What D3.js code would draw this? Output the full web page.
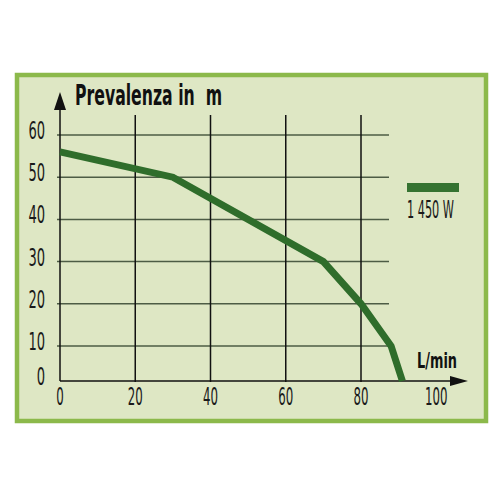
<!DOCTYPE html>
<html>
<head>
<meta charset="utf-8">
<script src="https://cdn.jsdelivr.net/npm/d3@7"></script>
<style>
  html, body { margin: 0; padding: 0; background: #ffffff; }
  svg { display: block; }
  text { white-space: pre; }
</style>
</head>
<body>
<svg id="chart" width="500" height="500"></svg>
<script>
// ---- data ----
const flow = [0, 30, 70, 80, 88, 91];          // L/min
const head = [56, 50, 30, 20, 10, 0];          // m
const xTicks = [0, 20, 40, 60, 80, 100];
const yTicks = [0, 10, 20, 30, 40, 50, 60];
const xGrid = [20, 40, 60, 80];
const yGrid = [10, 20, 30, 40, 50, 60];
const seriesName = "1 450 W";
const yTitle = "Prevalenza in  m";
const xTitle = "L/min";

const svg = d3.select("#chart");
const font = "'Liberation Sans Narrow', 'DejaVu Sans Condensed', sans-serif";

const x = d3.scaleLinear().domain([0, 80]).range([60, 361]);
const y = d3.scaleLinear().domain([0, 10, 60]).range([381, 346, 135]);

// frame
svg.append("rect").attr("x", 17).attr("y", 75).attr("width", 469).attr("height", 346)
  .attr("fill", "#dee7c4").attr("stroke", "#8cb94b").attr("stroke-width", 4.5);

// horizontal grid
svg.append("g").selectAll("line").data(yGrid).join("line")
  .attr("x1", 57).attr("x2", 389)
  .attr("y1", d => y(d)).attr("y2", d => y(d))
  .attr("stroke", "#4d5c45").attr("stroke-width", 1.5);

// vertical grid
svg.append("g").selectAll("line").data(xGrid).join("line")
  .attr("x1", d => x(d)).attr("x2", d => x(d))
  .attr("y1", 115).attr("y2", y(0) + 1)
  .attr("stroke", "#111").attr("stroke-width", 1.5);

// axes
svg.append("line").attr("x1", x(0)).attr("x2", x(0)).attr("y1", y(0)).attr("y2", 106)
  .attr("stroke", "#111").attr("stroke-width", 1.5);
svg.append("path").attr("d", `M${x(0)},92 L${x(0)-6},110 L${x(0)+6},110 Z`).attr("fill", "#111");
svg.append("line").attr("x1", x(0)).attr("x2", 455).attr("y1", y(0)).attr("y2", y(0))
  .attr("stroke", "#111").attr("stroke-width", 1.5);
svg.append("path").attr("d", `M468,${y(0)} L450,${y(0)-5} L450,${y(0)+5} Z`).attr("fill", "#111");

// tick labels (tall, narrow digits)
svg.append("g").selectAll("text").data(yTicks).join("text")
  .attr("x", 45).attr("y", d => y(d) + 4)
  .attr("text-anchor", "end")
  .attr("font-family", font).attr("font-size", 24).attr("fill", "#1a1a1a")
  .attr("textLength", d => String(d).length * 8.3).attr("lengthAdjust", "spacingAndGlyphs")
  .text(d => d);
svg.append("g").selectAll("text").data(xTicks).join("text")
  .attr("x", d => x(d)).attr("y", 405)
  .attr("text-anchor", "middle")
  .attr("font-family", font).attr("font-size", 24).attr("fill", "#1a1a1a")
  .attr("textLength", d => String(d).length * 7.5).attr("lengthAdjust", "spacingAndGlyphs")
  .text(d => d);

// titles
svg.append("text").attr("x", 75).attr("y", 105)
  .attr("font-family", font).attr("font-weight", "bold").attr("font-size", 28)
  .attr("textLength", 147).attr("lengthAdjust", "spacingAndGlyphs")
  .attr("fill", "#111").text(yTitle);
svg.append("text").attr("x", 417).attr("y", 368)
  .attr("font-family", font).attr("font-weight", "bold").attr("font-size", 21)
  .attr("textLength", 40).attr("lengthAdjust", "spacingAndGlyphs")
  .attr("fill", "#111").text(xTitle);

// curve
const pts = flow.map((f, i) => [f, head[i]]);
svg.append("path").datum(pts)
  .attr("d", d3.line().x(d => x(d[0])).y(d => y(d[1])))
  .attr("fill", "none").attr("stroke", "#2f6d2b").attr("stroke-width", 7)
  .attr("stroke-linejoin", "miter");

// legend
svg.append("rect").attr("x", 407).attr("y", 183).attr("width", 52).attr("height", 9)
  .attr("fill", "#357331");
svg.append("text").attr("x", 407).attr("y", 218)
  .attr("font-family", font).attr("font-size", 25)
  .attr("textLength", 47).attr("lengthAdjust", "spacingAndGlyphs")
  .attr("fill", "#1a1a1a").text(seriesName);
</script>
</body>
</html>
